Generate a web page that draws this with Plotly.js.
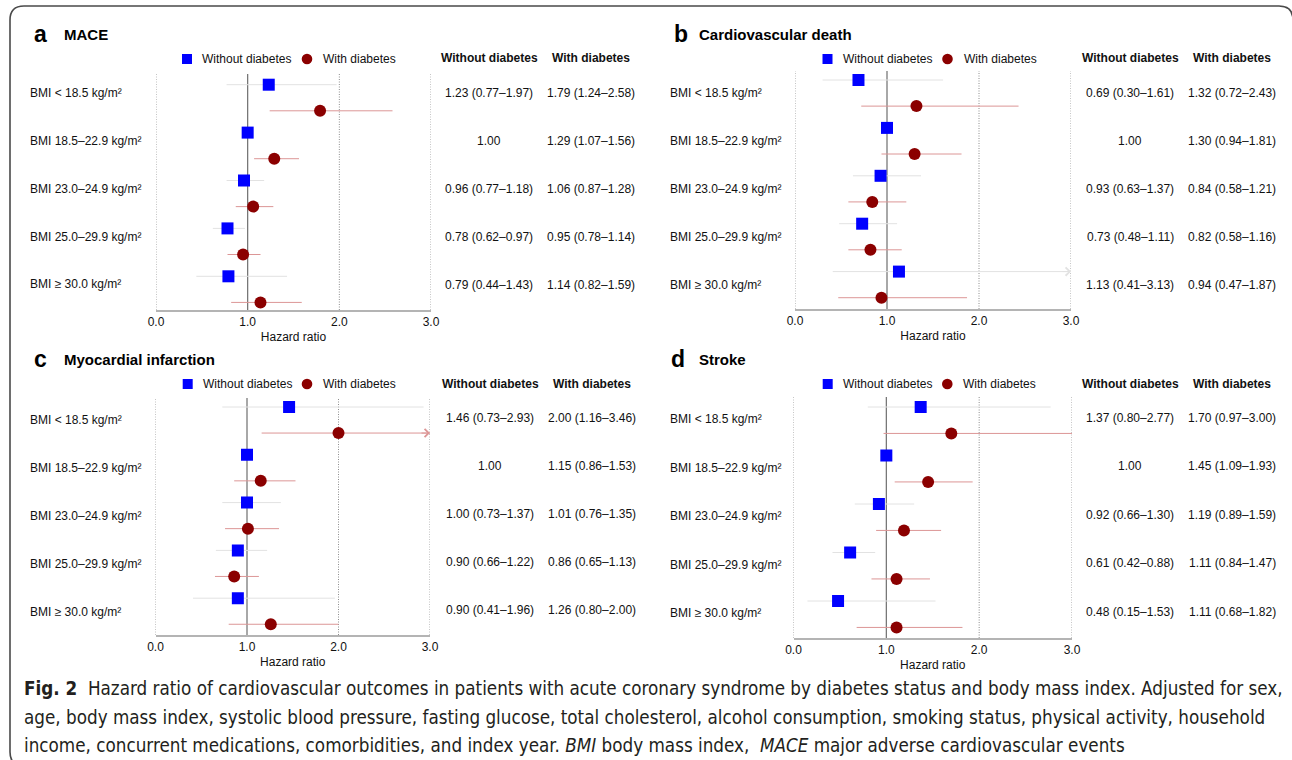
<!DOCTYPE html>
<html><head><meta charset="utf-8">
<script src="https://cdn.plot.ly/plotly-3.0.1.min.js"></script>
<style>html,body{margin:0;padding:0;background:#fff;} #chart{width:1292px;height:760px;}</style>
</head><body><div id="chart"></div>
<script>
// ---------------- data ----------------
const rowLabels = ['BMI &lt; 18.5 kg/m²', 'BMI 18.5–22.9 kg/m²', 'BMI 23.0–24.9 kg/m²', 'BMI 25.0–29.9 kg/m²', 'BMI ≥ 30.0 kg/m²'];
const panelLetters = ['a', 'b', 'c', 'd'];
const panelTitles = ['MACE', 'Cardiovascular death', 'Myocardial infarction', 'Stroke'];
const groupNames = ['Without diabetes', 'With diabetes'];
const tickVals = [0, 1, 2, 3];
const tickText = ['0.0', '1.0', '2.0', '3.0'];
const axisTitle = 'Hazard ratio';

// MACE
const maceNoHR = [1.23, 1.00, 0.96, 0.78, 0.79];
const maceNoLo = [0.77, null, 0.77, 0.62, 0.44];
const maceNoHi = [1.97, null, 1.18, 0.97, 1.43];
const maceDmHR = [1.79, 1.29, 1.06, 0.95, 1.14];
const maceDmLo = [1.24, 1.07, 0.87, 0.78, 0.82];
const maceDmHi = [2.58, 1.56, 1.28, 1.14, 1.59];
// Cardiovascular death
const cvdNoHR = [0.69, 1.00, 0.93, 0.73, 1.13];
const cvdNoLo = [0.30, null, 0.63, 0.48, 0.41];
const cvdNoHi = [1.61, null, 1.37, 1.11, 3.13];
const cvdDmHR = [1.32, 1.30, 0.84, 0.82, 0.94];
const cvdDmLo = [0.72, 0.94, 0.58, 0.58, 0.47];
const cvdDmHi = [2.43, 1.81, 1.21, 1.16, 1.87];
// Myocardial infarction
const miNoHR = [1.46, 1.00, 1.00, 0.90, 0.90];
const miNoLo = [0.73, null, 0.73, 0.66, 0.41];
const miNoHi = [2.93, null, 1.37, 1.22, 1.96];
const miDmHR = [2.00, 1.15, 1.01, 0.86, 1.26];
const miDmLo = [1.16, 0.86, 0.76, 0.65, 0.80];
const miDmHi = [3.46, 1.53, 1.35, 1.13, 2.00];
// Stroke
const stNoHR = [1.37, 1.00, 0.92, 0.61, 0.48];
const stNoLo = [0.80, null, 0.66, 0.42, 0.15];
const stNoHi = [2.77, null, 1.30, 0.88, 1.53];
const stDmHR = [1.70, 1.45, 1.19, 1.11, 1.11];
const stDmLo = [0.97, 1.09, 0.89, 0.84, 0.68];
const stDmHi = [3.00, 1.93, 1.59, 1.47, 1.82];

const captionLines = [
  '<b>Fig. 2</b>  Hazard ratio of cardiovascular outcomes in patients with acute coronary syndrome by diabetes status and body mass index. Adjusted for sex,',
  'age, body mass index, systolic blood pressure, fasting glucose, total cholesterol, alcohol consumption, smoking status, physical activity, household',
  'income, concurrent medications, comorbidities, and index year. <i>BMI</i> body mass index,  <i>MACE</i> major adverse cardiovascular events'
];

// ---------------- layout geometry (pixels) ----------------
const W = 1292, H = 760;
const px = x => x / W;
const py = y => 1 - y / H;
const XMAX = 3;
const DM_OFF = 0.545;

const series = [
  {no: [maceNoHR, maceNoLo, maceNoHi], dm: [maceDmHR, maceDmLo, maceDmHi]},
  {no: [cvdNoHR, cvdNoLo, cvdNoHi], dm: [cvdDmHR, cvdDmLo, cvdDmHi]},
  {no: [miNoHR, miNoLo, miNoHi], dm: [miDmHR, miDmLo, miDmHi]},
  {no: [stNoHR, stNoLo, stNoHi], dm: [stDmHR, stDmLo, stDmHi]}
];

const geo = [
  {x0:156, x1:431, yTop:74, yBot:310, blue0:84.7, step:47.9, lblX:28, lbl:0.17, tbl:0.18, letterX:32, titleX:62, titleY:34, legY:59, sqX:187, ciX:307, col1:489, col2:591, hdrY:58},
  {x0:795, x1:1071, yTop:71, yBot:309, blue0:80, step:47.9, lblX:668, lbl:0.28, tbl:0.28, letterX:672, titleX:697, titleY:34, legY:59, sqX:827.5, ciX:947.5, col1:1130, col2:1232, hdrY:58},
  {x0:155.5, x1:430, yTop:398, yBot:635, blue0:407, step:47.8, lblX:28, lbl:0.28, tbl:0.24, letterX:32, titleX:62, titleY:359.5, legY:384, sqX:187.7, ciX:307, col1:490, col2:591.5, hdrY:384},
  {x0:793.5, x1:1072, yTop:397, yBot:638, blue0:407, step:48.5, lblX:668, lbl:0.25, tbl:0.225, letterX:669, titleX:697, titleY:359, legY:384, sqX:827.7, ciX:947.3, col1:1130, col2:1232, hdrY:384}
];

const FONT = '"Liberation Sans", Arial, Helvetica, sans-serif';
const TXT = '#111111';
const BLUE = '#0000ff';
const RED = '#8b0000';
const CI_NO = '#e2e2e2';
const CI_DM = '#dc9696';

const traces = [];
const annotations = [];
const shapes = [];
const layout = {
  width: W, height: H, autosize: false,
  margin: {l: 0, r: 0, t: 0, b: 0, pad: 0},
  paper_bgcolor: '#ffffff', plot_bgcolor: 'rgba(0,0,0,0)',
  font: {family: FONT, size: 12, color: TXT},
  showlegend: false,
  annotations: annotations,
  shapes: shapes
};

const fmt = v => v.toFixed(2);
const cell = (hr, lo, hi) => lo == null ? fmt(hr) : fmt(hr) + ' (' + fmt(lo) + '–' + fmt(hi) + ')';

geo.forEach((g, k) => {
  const sfx = k === 0 ? '' : String(k + 1);
  const xa = 'x' + sfx, ya = 'y' + sfx;
  const rows = rowLabels.map((_, i) => i);
  const yTopVal = -(g.blue0 - g.yTop) / g.step;
  const yBotVal = (g.yBot - g.blue0) / g.step;
  const rowPx = v => g.blue0 + v * g.step;   // row coordinate -> pixel (same mapping as the y axis)

  layout['xaxis' + sfx] = {
    domain: [px(g.x0), px(g.x1)], anchor: ya, range: [0, XMAX], fixedrange: true,
    tickvals: tickVals, ticktext: tickText, ticks: '', tickfont: {size: 12, color: TXT},
    showgrid: false, zeroline: false, showline: true, linecolor: '#b4b4b4', linewidth: 2,
    title: {text: axisTitle, font: {size: 12, color: TXT}, standoff: 4}
  };
  layout['yaxis' + sfx] = {
    domain: [py(g.yBot), py(g.yTop)], anchor: xa, range: [yBotVal, yTopVal], fixedrange: true,
    showgrid: false, zeroline: false, showline: false, showticklabels: false, ticks: ''
  };

  // vertical grid lines at the tick values (dotted), reference line at HR = 1 (solid)
  tickVals.forEach(v => {
    const ref = v === 1;
    shapes.push({type: 'line', xref: xa, yref: ya + ' domain', x0: v, x1: v, y0: 0, y1: 1, layer: 'below',
      line: ref ? {color: '#6e6e6e', width: 1.2} : {color: '#8c8c8c', width: 1, dash: '1px,1.5px'}});
  });

  const groups = [
    {d: series[k].no, off: 0, sym: 'square', col: BLUE, ci: CI_NO, name: groupNames[0]},
    {d: series[k].dm, off: DM_OFF, sym: 'circle', col: RED, ci: CI_DM, name: groupNames[1]}
  ];
  groups.forEach(gr => {
    const [hr, lo, hi] = gr.d;
    const yy = rows.map(i => i + gr.off);
    traces.push({
      type: 'scatter', mode: 'markers', name: gr.name, x: hr, y: yy, xaxis: xa, yaxis: ya,
      marker: {symbol: gr.sym, size: 12, color: gr.col, line: {width: 0}},
      error_x: {type: 'data', symmetric: false,
        array: hr.map((v, i) => hi[i] == null ? 0 : Math.min(hi[i], XMAX) - v),
        arrayminus: hr.map((v, i) => lo[i] == null ? 0 : v - lo[i]),
        color: gr.ci, thickness: 1, width: 0},
      hoverinfo: 'x+name', showlegend: false
    });
    // truncation arrows
    hi.forEach((h, i) => {
      if (h != null && h > XMAX) {
        annotations.push({xref: xa, yref: ya, x: XMAX, y: yy[i], text: '', showarrow: true,
          ax: -10, ay: 0, arrowhead: 4, arrowsize: 1.6, arrowwidth: 1, arrowcolor: gr.ci});
      }
    });
    // table values
    const colX = gr.off === 0 ? g.col1 : g.col2;
    hr.forEach((v, i) => {
      annotations.push({xref: 'paper', yref: 'paper', x: px(colX), y: py(rowPx(i + g.tbl)), xanchor: 'center', yanchor: 'middle',
        text: cell(v, lo[i], hi[i]), showarrow: false, font: {family: FONT, size: 12, color: TXT}});
    });
  });

  // row labels
  rowLabels.forEach((t, i) => {
    annotations.push({xref: 'paper', yref: 'paper', x: px(g.lblX), y: py(rowPx(i + g.lbl)), xanchor: 'left', yanchor: 'middle',
      text: t, showarrow: false, font: {family: FONT, size: 12, color: TXT}});
  });

  // panel letter and title
  annotations.push({xref: 'paper', yref: 'paper', x: px(g.letterX), y: py(g.titleY), xanchor: 'left', yanchor: 'middle',
    text: '<b>' + panelLetters[k] + '</b>', showarrow: false, font: {family: FONT, size: 23, color: '#000'}});
  annotations.push({xref: 'paper', yref: 'paper', x: px(g.titleX), y: py(g.titleY), xanchor: 'left', yanchor: 'middle',
    text: '<b>' + panelTitles[k] + '</b>', showarrow: false, font: {family: FONT, size: 15, color: '#000'}});

  // legend keys
  const s = 5;
  shapes.push({type: 'rect', xref: 'paper', yref: 'paper', x0: px(g.sqX - s), x1: px(g.sqX + s), y0: py(g.legY + s), y1: py(g.legY - s),
    fillcolor: BLUE, line: {width: 0}});
  shapes.push({type: 'circle', xref: 'paper', yref: 'paper', x0: px(g.ciX - 5.3), x1: px(g.ciX + 5.3), y0: py(g.legY + 5.3), y1: py(g.legY - 5.3),
    fillcolor: RED, line: {width: 0}});
  annotations.push({xref: 'paper', yref: 'paper', x: px(g.sqX + 13), y: py(g.legY), xanchor: 'left', yanchor: 'middle',
    text: groupNames[0], showarrow: false, font: {family: FONT, size: 12, color: TXT}});
  annotations.push({xref: 'paper', yref: 'paper', x: px(g.ciX + 14), y: py(g.legY), xanchor: 'left', yanchor: 'middle',
    text: groupNames[1], showarrow: false, font: {family: FONT, size: 12, color: TXT}});

  // table headers
  [g.col1, g.col2].forEach((cx, j) => {
    annotations.push({xref: 'paper', yref: 'paper', x: px(cx), y: py(g.hdrY), xanchor: 'center', yanchor: 'middle',
      text: '<b>' + groupNames[j] + '</b>', showarrow: false, font: {family: FONT, size: 12, color: TXT}});
  });
});

// caption
const capY = [688, 717, 745];
captionLines.forEach((t, i) => {
  annotations.push({xref: 'paper', yref: 'paper', x: px(22), y: py(capY[i]), xanchor: 'left', yanchor: 'middle',
    text: t, showarrow: false, font: {family: '"DejaVu Sans Condensed", "Liberation Sans Narrow", sans-serif', size: 18.7, color: '#231f20'}});
});

// frame (rounded border)
(function () {
  const L = 10, T = 6, R = 1293, B = 766, r = 14;
  const P = (x, y) => px(x) + ',' + py(y);
  const path = 'M' + P(R, B) + ' L' + P(L + r, B) + ' Q' + P(L, B) + ' ' + P(L, B - r) +
    ' L' + P(L, T + r) + ' Q' + P(L, T) + ' ' + P(L + r, T) + ' L' + P(R - r, T) +
    ' Q' + P(R, T) + ' ' + P(R, T + r) + ' L' + P(R, B);
  shapes.push({type: 'path', xref: 'paper', yref: 'paper', path: path, line: {color: '#4a4a4a', width: 1.6}});
})();

Plotly.newPlot('chart', traces, layout, {displayModeBar: false, staticPlot: true});
</script>
</body></html>
